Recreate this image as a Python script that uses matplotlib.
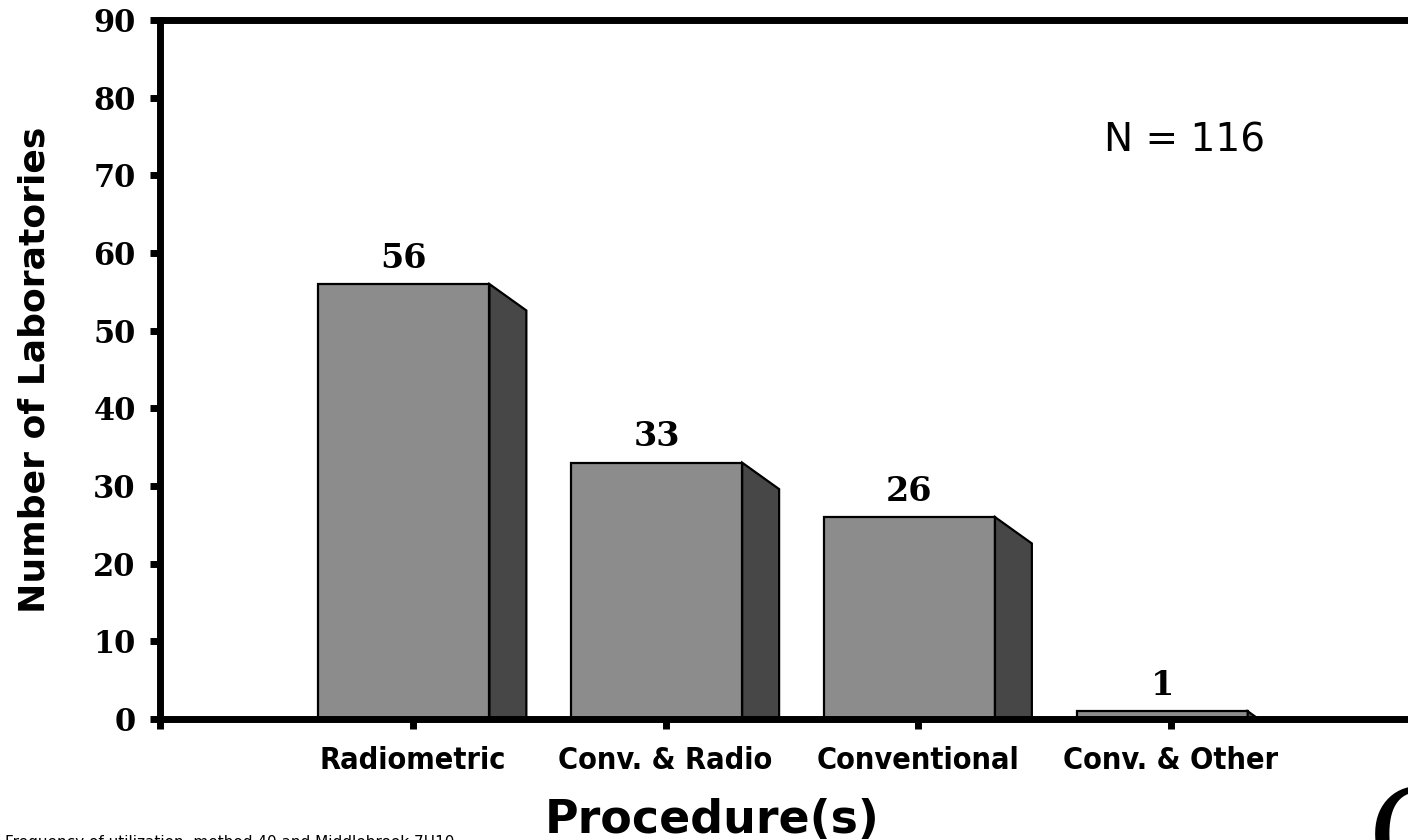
import matplotlib
matplotlib.use("Agg")
import matplotlib.pyplot as plt
from matplotlib import font_manager

procedures = ["Radiometric", "Conv. & Radio", "Conventional", "Conv. & Other"]
labs = [56, 33, 26, 1]
n_total = 116
yticks = [0, 10, 20, 30, 40, 50, 60, 70, 80, 90]

front_col = "#8c8c8c"
side_col = "#474747"
bar_w = 0.677
depth_x = 0.146
depth_y = 3.4

# look for a narrow bold face for the category labels
narrow = None
for f in font_manager.fontManager.ttflist:
    nm = f.name.lower()
    if ("narrow" in nm or "condensed" in nm or f.stretch in ("condensed", "semi-condensed")) and f.weight in (700, "bold"):
        narrow = f.fname
        break
if narrow:
    cat_font = dict(fontproperties=font_manager.FontProperties(fname=narrow, size=22))
else:
    cat_font = dict(fontsize=22, fontweight="bold", family=["Roboto", "DejaVu Sans"])

fig = plt.figure(figsize=(14.08, 8.4), dpi=100)
ax = fig.add_axes([160 / 1408, 121 / 840, 5.5 * 252.75 / 1408, 699 / 840])

xs = [i + 1 - 0.035 for i in range(len(labs))]
ax.bar(xs, labs, width=bar_w, color=front_col, edgecolor="black", linewidth=1.6, zorder=2)
for x, v in zip(xs, labs):
    r = x + bar_w / 2
    ax.fill([r, r, r + depth_x, r + depth_x], [-10, v, v - depth_y, -10],
            facecolor=side_col, edgecolor="black", linewidth=1.6, zorder=2)
    ax.text(x, v + 1.2, str(v), ha="center", va="bottom", fontsize=24,
            fontweight="bold", family="DejaVu Serif")

ax.text(4.055, 74.5, "N = %d" % n_total, ha="center", va="center", fontsize=28,
        family="DejaVu Sans")

ax.set_xlim(0, 5.5)
ax.set_ylim(0, 90)
ax.set_yticks(yticks)
ax.set_yticklabels([str(t) for t in yticks], fontsize=22, fontweight="bold", family="DejaVu Serif")
ax.set_xticks([0, 1, 2, 3, 4])
ax.set_xticklabels([""] + procedures, **cat_font)
ax.tick_params(axis="both", direction="out", length=7.5, width=5)
ax.tick_params(axis="y", pad=10)
ax.tick_params(axis="x", pad=12)
for s in ["left", "bottom", "top"]:
    ax.spines[s].set_linewidth(5)
ax.spines["right"].set_visible(False)

fig.text(35 / 1408, 1 - 370 / 840, "Number of Laboratories", rotation=90, ha="center",
         va="center", fontsize=26, fontweight="bold")
fig.text(712 / 1408, 7 / 840, "Procedure(s)", ha="center", va="baseline", fontsize=33,
         fontweight="bold")
fig.text(5 / 1408, 5 / 840, "Frequency of utilization, method 40 and Middlebrook 7H10",
         ha="left", va="top", fontsize=11)
fig.text(1368 / 1408, 1 - 783 / 840, "C", ha="left", va="top", fontsize=92,
         family="DejaVu Serif")

fig.savefig("out.png", dpi=100)
